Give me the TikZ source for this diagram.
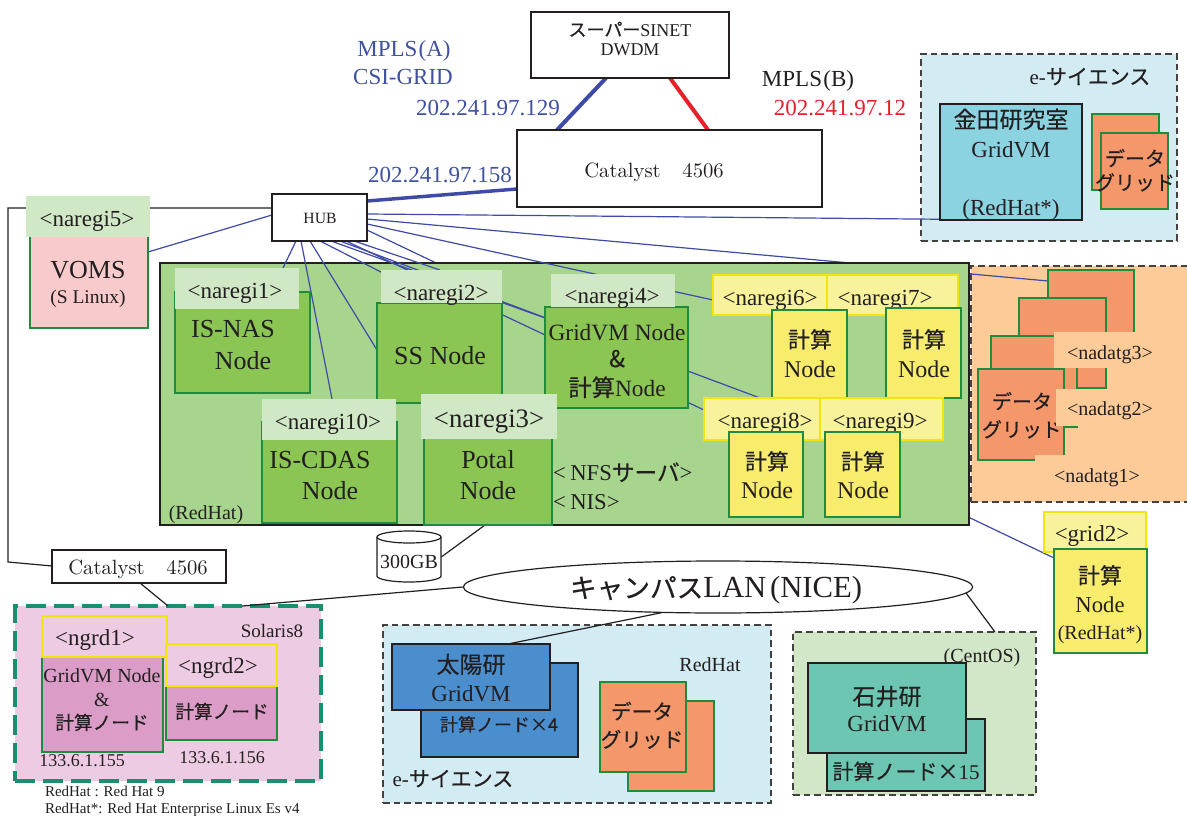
\documentclass[tikz,border=0pt]{standalone}
\usepackage{fontspec}
\setmainfont{Liberation Serif}
\newfontfamily\jp[FakeBold=0.4]{Noto Sans CJK JP}
\newcommand\lmfont{\fontfamily{lmr}\selectfont}
\newcommand\catal{\scalebox{1.55}{\fontsize{10}{10}\lmfont Catalyst\hspace{1.05em}4506}}
\usetikzlibrary{shapes.geometric,calc}
\pgfdeclarelayer{back}\pgfdeclarelayer{under}\pgfdeclarelayer{greenl}\pgfdeclarelayer{over}
\pgfsetlayers{back,under,greenl,over,main}
\definecolor{ink}{HTML}{231F20}
\definecolor{clblue}{HTML}{3E4AA8}
\definecolor{ctblue}{HTML}{3F51A3}
\definecolor{ctred}{HTML}{E8202A}
\definecolor{clgreen}{HTML}{D1E8C7}
\definecolor{cgarea}{HTML}{A8D58E}
\definecolor{cgnode}{HTML}{8BC553}
\definecolor{cgline}{HTML}{1E8B3D}
\definecolor{cvpink}{HTML}{F9CACB}
\definecolor{cylab}{HTML}{F8F39B}
\definecolor{cyline}{HTML}{F2E50B}
\definecolor{cybox}{HTML}{F7EC6B}
\definecolor{cobg}{HTML}{FDCB98}
\definecolor{codata}{HTML}{F4976B}
\definecolor{csky}{HTML}{D3ECF3}
\definecolor{ckaneda}{HTML}{8CD3E2}
\definecolor{ctaiyo}{HTML}{4A8ECE}
\definecolor{cishii}{HTML}{6DC6B1}
\definecolor{ccentbg}{HTML}{D1E7C8}
\definecolor{csolbg}{HTML}{EDCCE3}
\definecolor{csolbox}{HTML}{DB9DC8}
\definecolor{csoldash}{HTML}{17906E}
\newcounter{tn}
\newcommand\fs[1]{\fontsize{#1}{#1}\selectfont}
\newcommand\tx[5][]{\stepcounter{tn}\node[txt,font=\fs{#4},text height=\dimexpr#4pt*7/10\relax,#1] (t\arabic{tn}) at (#2,#3) {#5};}
\newcommand\bx[7]{\node[#2,anchor=north west,inner sep=0pt,outer sep=0pt,minimum width={(#5-#3)*0.75pt},minimum height={(#6-#4)*0.75pt}] (#1) at (#3,#4) {#7};}
\tikzset{
  txt/.style={inner sep=0pt, outer sep=0pt, text=ink, text depth=0pt},
  plain/.style={draw=ink, fill=white, line width=1.1pt},
  region/.style={draw=ink!85, dash pattern=on 5pt off 3pt, line width=1.1pt},
  solregion/.style={draw=csoldash, fill=csolbg, line width=2.4pt, dash pattern=on 15pt off 6pt},
  glab/.style={fill=clgreen},
  gbox/.style={fill=cgnode, draw=cgline, line width=1.1pt},
  ylabel/.style={fill=cylab, draw=cyline, line width=1.1pt},
  yboxs/.style={fill=cybox, draw=cgline, line width=1.1pt},
  obox/.style={fill=codata, draw=cgline, line width=1.1pt},
  olab/.style={fill=cobg},
  link/.style={draw=clblue, line width=0.9pt},
  blk/.style={draw=ink, line width=0.9pt},
}
\begin{document}
\begin{tikzpicture}[x=0.75pt,y=-0.75pt]
\useasboundingbox (0,0) rectangle (1187,816);

% ---------- region backgrounds
\begin{pgfonlayer}{back}
\fill[white] (0,0) rectangle (1187,816);
\bx{escitop}{region,fill=csky}{921}{54}{1177}{241}{}
\bx{nadatg}{region,fill=cobg}{971}{266}{1196}{502}{}
\bx{solaris}{solregion}{15}{606}{321}{781}{}
\bx{escibot}{region,fill=csky}{383}{625}{771}{803}{}
\bx{centos}{region,fill=ccentbg}{793}{632}{1036}{795}{}
\end{pgfonlayer}
\begin{pgfonlayer}{greenl}
\bx{green}{fill=cgarea,draw=ink,line width=1.2pt}{160}{263}{969}{525}{}
\end{pgfonlayer}

% ---------- top
\bx{sinet}{plain}{531}{12}{729}{78}{}
\tx{630}{30}{13.5}{{\jp スーパー}SINET}
\tx{630}{49}{13.5}{DWDM}
\bx{cat1}{plain}{517}{130}{822}{207}{}
\tx{654}{170}{16}{\catal}
\bx{hub}{plain}{272}{194}{367}{241}{}
\tx{320}{218}{11.75}{HUB}
\tx[text=ctblue]{404}{48}{17.25}{MPLS\kern1pt(A)}
\tx[text=ctblue]{403}{76}{17.25}{CSI-GRID}
\tx[text=ctblue]{488}{107}{17.25}{202.241.97.129}
\tx[text=ctblue]{440}{174}{17.25}{202.241.97.158}
\tx{808}{78}{17.25}{MPLS\kern1pt(B)}
\tx[text=ctred]{840}{107}{17.25}{202.241.97.12}

% ---------- e-science top
\tx{1090}{77}{15.75}{e-{\jp サイエンス}}
\bx{kaneda}{fill=ckaneda,draw=ink,line width=1.1pt}{940}{104}{1082}{220}{}
\tx{1011}{120}{17.25}{\jp 金田研究室}
\tx{1011}{149}{17.25}{GridVM}
\tx{1011}{207}{17.25}{(RedHat*)}
\bx{dtopb}{obox}{1092}{114}{1159}{190}{}
\bx{dtopf}{obox}{1101}{133}{1168}{209}{}
\tx{1135}{159}{15}{\jp データ}
\tx{1135}{183}{15}{\jp グリッド}

% ---------- VOMS
\bx{voms}{fill=cvpink,draw=cgline,line width=1.1pt}{30}{236}{148}{328}{}
\bx{n5lab}{glab}{26}{196}{150}{237}{}
\tx{87}{218}{17.25}{<naregi5>}
\tx{88}{269}{19.5}{VOMS}
\tx{88}{297}{14.6}{(S Linux)}

% ---------- green area contents
\tx{206}{512}{15}{(RedHat)}
\bx{isnas}{gbox}{175}{292}{310}{393}{}
\bx{n1lab}{glab}{175}{268}{299}{309}{}
\tx{235}{290}{17.25}{<naregi1>}
\tx{233}{328}{19.5}{IS-NAS}
\tx{243}{360}{19.5}{Node}

\bx{ss}{gbox}{377}{303}{502}{403}{}
\bx{n2lab}{glab}{381}{270}{502}{303}{}
\tx{441}{292}{17.25}{<naregi2>}
\tx{440}{355}{19.5}{SS Node}

\bx{gvm}{gbox}{545}{307}{688}{408}{}
\bx{n4lab}{glab}{551}{274}{675}{307}{}
\tx{612}{295}{17.25}{<naregi4>}
\tx{617}{332}{17.5}{GridVM Node}
\tx{617}{359}{17.5}{\jp \&}
\tx{617}{388}{17.5}{{\jp 計算}Node}

\bx{n6lab}{ylabel}{713}{275}{827}{315}{}
\bx{n7lab}{ylabel}{827}{275}{958}{315}{}
\tx{770}{297}{17.25}{<naregi6>}
\tx{885}{297}{17.25}{<naregi7>}
\bx{b6}{yboxs}{772}{310}{847}{398}{}
\bx{b7}{yboxs}{886}{308}{961}{398}{}
\tx{810}{340}{16.5}{\jp 計算}
\tx{810}{369}{18}{Node}
\tx{924}{340}{16.5}{\jp 計算}
\tx{924}{369}{18}{Node}

\bx{n8lab}{ylabel}{704}{398}{820}{440}{}
\bx{n9lab}{ylabel}{820}{398}{943}{440}{}
\tx{765}{420}{17.25}{<naregi8>}
\tx{880}{420}{17.25}{<naregi9>}
\bx{b8}{yboxs}{729}{432}{803}{517}{}
\bx{b9}{yboxs}{825}{432}{900}{517}{}
\tx{767}{462}{16.5}{\jp 計算}
\tx{767}{490}{18}{Node}
\tx{863}{462}{16.5}{\jp 計算}
\tx{863}{490}{18}{Node}

\bx{iscdas}{gbox}{262}{422}{397}{523}{}
\bx{n10lab}{glab}{262}{399}{396}{440}{}
\tx{328}{421}{17.25}{<naregi10>}
\tx{320}{459}{19.5}{IS-CDAS}
\tx{330}{490}{19.5}{Node}

\bx{potal}{gbox}{424}{438}{552}{525}{}
\bx{n3lab}{glab}{421}{394}{557}{439}{}
\tx{489}{418}{20}{<naregi3>}
\tx{488}{459}{19.5}{Potal}
\tx{488}{490}{19.5}{Node}

\tx[anchor=west]{553}{473}{17}{<\hspace{0.2em}NFS{\jp サーバ}>}
\tx[anchor=west]{553}{502}{17}{<\hspace{0.2em}NIS>}

% ---------- disk
\node[inner sep=0pt,minimum width=48pt,minimum height=38pt] (disk) at (409,556) {};
\filldraw[fill=white,draw=ink,line width=0.9pt] (377,537) -- (377,576) arc[start angle=180,end angle=0,x radius=32,y radius=6] -- (441,537) arc[start angle=0,end angle=-180,x radius=32,y radius=6] -- cycle;
\draw[ink,line width=0.9pt] (377,537) arc[start angle=180,end angle=0,x radius=32,y radius=6];
\tx{409}{561}{15}{300GB}

% ---------- Catalyst bottom, LAN
\bx{cat2}{plain}{52}{550}{226}{583}{}
\tx{138}{567}{16}{\catal}
\node[ellipse,draw=ink,fill=white,line width=0.9pt,inner sep=0pt,minimum width=382pt,minimum height=39pt] (lan) at (718,587) {};
\tx{716}{587}{23}{{\fs{20}\jp キャンパス}LAN\hspace{0.12em}(NICE)}

% ---------- Solaris
\tx{272}{631}{14.25}{Solaris8}
\bx{g1box}{fill=csolbox,draw=cgline,line width=1.1pt}{42}{657}{163}{752}{}
\bx{g1lab}{fill=csolbg,draw=cyline,line width=1.1pt}{42}{616}{167}{657}{}
\tx{95}{637}{17.25}{<ngrd1>}
\tx{102}{675}{15}{GridVM Node}
\tx{102}{699}{15}{\&}
\tx{102}{723}{14}{\jp 計算ノード}
\bx{g2box}{fill=csolbox,draw=cgline,line width=1.1pt}{166}{686}{277}{740}{}
\bx{g2lab}{fill=csolbg,draw=cyline,line width=1.1pt}{166}{644}{277}{686}{}
\tx{218}{665}{17.25}{<ngrd2>}
\tx{222}{712}{14}{\jp 計算ノード}
\tx{82}{760}{13.5}{133.6.1.155}
\tx{222}{757}{13.5}{133.6.1.156}
\tx[anchor=west]{45}{791}{11.25}{RedHat : Red Hat 9}
\tx[anchor=west]{45}{808}{11.25}{RedHat*: Red Hat Enterprise Linux Es v4}

% ---------- e-science bottom
\bx{taib}{fill=ctaiyo,draw=ink,line width=1.1pt}{421}{663}{578}{757}{}
\bx{taif}{fill=ctaiyo,draw=ink,line width=1.1pt}{392}{644}{550}{710}{}
\tx{471}{665}{17.25}{\jp 太陽研}
\tx{471}{693}{17.25}{GridVM}
\tx{499}{725}{13.5}{\jp 計算ノード×4}
\tx{710}{664}{15}{RedHat}
\tx{453}{779}{15.75}{e-{\jp サイエンス}}
\bx{dbotb}{obox}{628}{701}{714}{791}{}
\bx{dbotf}{obox}{600}{682}{686}{772}{}
\tx{642}{712}{15.5}{\jp データ}
\tx{642}{740}{15.5}{\jp グリッド}

% ---------- CentOS
\tx{982}{655}{15}{(CentOS)}
\bx{ishb}{fill=cishii,draw=ink,line width=1.1pt}{827}{719}{985}{791}{}
\bx{ishf}{fill=cishii,draw=ink,line width=1.1pt}{808}{663}{966}{753}{}
\tx{887}{697}{17.25}{\jp 石井研}
\tx{887}{723}{17.25}{GridVM}
\tx{906}{772}{15.75}{{\jp 計算ノード×}15}

% ---------- grid2
\bx{grid2lab}{ylabel}{1044}{512}{1146}{552}{}
\bx{g2nbox}{yboxs}{1054}{549}{1147}{653}{}
\tx{1092}{533}{17.25}{<grid2>}
\tx{1100}{576}{16.5}{\jp 計算}
\tx{1100}{605}{17}{Node}
\tx{1100}{632}{15}{(RedHat*)}

% ---------- nadatg
\bx{ngA}{obox}{1048}{270}{1134}{360}{}
\bx{ngB}{obox}{1019}{298}{1106}{388}{}
\bx{ngC}{obox}{991}{336}{1077}{427}{}
\bx{ng3lab}{olab}{1054}{332}{1136}{368}{}
\tx{1110}{352}{15}{<nadatg3>}
\bx{ngD}{obox}{978}{369}{1064}{460}{}
\tx{1022}{402}{15}{\jp データ}
\tx{1022}{430}{15}{\jp グリッド}
\bx{ng2lab}{olab}{1056}{389}{1136}{426}{}
\tx{1110}{408}{15}{<nadatg2>}
\bx{ng1lab}{olab}{1035}{455}{1140}{492}{}
\tx{1097}{475}{15}{<nadatg1>}

% ---------- connectors under the green area
\begin{pgfonlayer}{under}
\draw[link] ($(hub.north east)+(0,25)$) -- ($(ngA.north west)+(0,11)$);
\draw[link] ($(hub.north east)+(0,36)$) -- ($(g2nbox.north west)+(0,9)$);
\end{pgfonlayer}

% ---------- connectors
\begin{pgfonlayer}{over}
\draw[clblue,line width=3pt] ($(sinet.south west)+(75,0)$) -- ($(cat1.north west)+(40,0)$);
\draw[ctred,line width=3pt] ($(sinet.south west)+(139,0)$) -- ($(cat1.north west)+(191,0)$);
\draw[clblue,line width=2.6pt] ($(hub.north east)+(0,7)$) -- ($(cat1.north west)+(0,59)$);
\draw[blk] ($(hub.north west)+(0,14)$) -| (8,562) -- ($(cat2.north west)+(0,16)$);
\draw[link] ($(hub.north west)+(0,21)$) -- ($(voms.north east)+(0,16)$);
\draw[link] ($(hub.north east)+(0,20)$) -- ($(kaneda.south west)+(83,0)$);
\draw[link] ($(hub.north east)+(0,30)$) -- ($(n6lab.north west)+(0,25)$);
\draw[link] ($(hub.south west)+(24,0)$) -- ($(n1lab.north west)+(108,0)$);
\draw[link] ($(hub.south west)+(29,0)$) -- ($(n10lab.north west)+(70,0)$);
\draw[link] ($(hub.south west)+(38,0)$) -- ($(ss.north west)+(0,47)$);
\draw[link] ($(hub.south west)+(48,0)$) -- ($(n2lab.north west)+(0,2)$);
\draw[link] ($(hub.south west)+(59,0)$) -- ($(gvm.north west)+(0,11)$);
\draw[link] ($(hub.south west)+(68,0)$) -- ($(n8lab.north west)+(56,0)$);
\draw[link] ($(hub.south west)+(74,0)$) -- ($(n8lab.north west)+(0,12)$);
\draw[link] ($(hub.south west)+(82,0)$) -- ($(n2lab.north west)+(59,0)$);
\draw[blk] ($(disk.east)+(0,1)$) -- ($(potal.south west)+(61,0)$);
\draw[blk] ($(cat2.south west)+(88,0)$) -- ($(solaris.north west)+(153,0)$);
\draw[blk] (lan.west) -- ($(solaris.north west)+(227,0)$);
\draw[blk] ($(lan.south)+(-56,-1)$) -- ($(taif.north west)+(116,0)$);
\draw[blk] ($(lan.center)+(248,6)$) -- ($(centos.north west)+(202,0)$);
\end{pgfonlayer}
\end{tikzpicture}
\end{document}
